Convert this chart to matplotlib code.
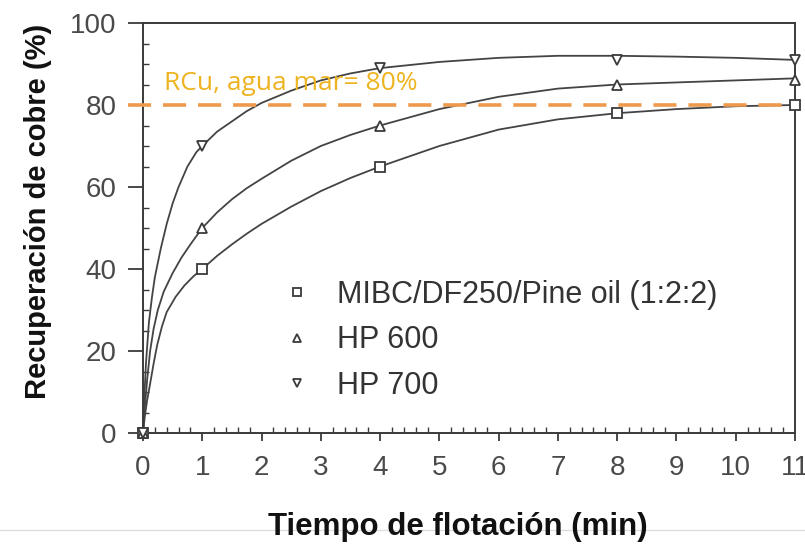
"""Recuperación de cobre vs tiempo de flotación para tres espumantes."""

import matplotlib
matplotlib.use("Agg")
import matplotlib.pyplot as plt
from matplotlib.lines import Line2D
from matplotlib.ticker import MultipleLocator

# Puntos experimentales (marcadores)
t_pts = [0, 1, 4, 8, 11]
mibc_pts = [0, 40, 65, 78, 80]
hp600_pts = [0, 50, 75, 85, 86]
hp700_pts = [0, 70, 89, 91, 91]

# Curvas de ajuste
t_mibc = [0, 0.03, 0.07, 0.12, 0.18, 0.24, 0.32, 0.4, 0.55, 0.7, 0.85, 1, 1.25,
          1.5, 1.75, 2, 2.5, 3, 3.5, 4, 5, 6, 7, 8, 9, 10, 11]
mibc_curve = [0, 4, 8, 12, 17, 21.5, 26, 29.5, 33.2, 36, 38.2, 40, 43.2,
              46, 48.6, 51, 55.2, 59, 62.2, 65, 70, 74, 76.5, 78, 79, 79.7, 80]

t_hp600 = [0, 0.03, 0.07, 0.12, 0.18, 0.25, 0.35, 0.5, 0.65, 0.8, 1, 1.25, 1.5,
           1.75, 2, 2.5, 3, 3.5, 4, 5, 6, 7, 8, 9, 10, 11]
hp600_curve = [0, 6, 13, 20, 25.5, 30, 34.5, 39, 42.8, 46, 50, 53.8, 57,
               59.7, 62, 66.4, 70, 72.7, 75, 79, 82, 84, 85, 85.5, 86, 86.5]

t_hp700 = [0, 0.02, 0.05, 0.1, 0.15, 0.2, 0.3, 0.4, 0.5, 0.6, 0.75, 0.9, 1, 1.25,
           1.5, 1.75, 2, 2.5, 3, 3.5, 4, 5, 6, 7, 8, 9, 10, 11]
hp700_curve = [0, 8, 17, 27, 33, 38, 45, 51, 56, 60, 65, 68.5, 70, 73.5,
               76, 78.5, 80.5, 83.5, 86, 87.7, 89, 90.5, 91.5, 92, 92, 91.8, 91.5, 91]

labels = ["MIBC/DF250/Pine oil (1:2:2)", "HP 600", "HP 700"]
markers = ["s", "^", "v"]
ref_value = 80

INK = "#3a3a3a"

fig = plt.figure(figsize=(8.05, 5.45), dpi=100)
ax = fig.add_axes([143 / 805, 1 - 433 / 545, 652 / 805, 410 / 545])

for tc, yc, tp, yp, m in [
    (t_mibc, mibc_curve, t_pts, mibc_pts, "s"),
    (t_hp600, hp600_curve, t_pts, hp600_pts, "^"),
    (t_hp700, hp700_curve, t_pts, hp700_pts, "v"),
]:
    ax.plot(tc, yc, color="#444444", lw=1.3, zorder=2, clip_on=False)
    ax.plot(tp, yp, ls="none", marker=m, ms=7, mfc="white", mec=INK, mew=1.3,
            zorder=4, clip_on=False)

ax.plot([-0.25, 11], [ref_value, ref_value], color="#EE9A4D", lw=2.6,
        dashes=(6.4, 3.3), zorder=3, clip_on=False)
ax.text(0.35, 82.3, "RCu, agua mar= 80%", color="#EEB320", fontsize=19,
        family=["Open Sans", "DejaVu Sans"], ha="left", va="bottom")

ax.set_xlim(0, 11)
ax.set_ylim(0, 100)
ax.set_xticks(range(0, 12))
ax.set_yticks(range(0, 101, 20))
ax.xaxis.set_minor_locator(MultipleLocator(0.2))
ax.yaxis.set_minor_locator(MultipleLocator(5))

for s in ax.spines.values():
    s.set_color(INK)
    s.set_linewidth(1.4)

ax.tick_params(axis="y", which="major", direction="out", length=11, width=1.3,
               color=INK, labelsize=20, labelcolor="#4a4a4a", pad=8)
ax.tick_params(axis="x", which="major", direction="out", length=6, width=1.3,
               color=INK, labelsize=20, labelcolor="#4a4a4a", pad=10)
ax.tick_params(which="minor", direction="in", length=4, width=1.0, color=INK)
for lab in ax.get_xticklabels() + ax.get_yticklabels():
    lab.set_family(["Liberation Sans", "DejaVu Sans"])

handles = [Line2D([0], [0], ls="none", marker=m, ms=6, mfc="white", mec=INK, mew=1.3)
           for m in markers]
leg = ax.legend(handles, labels, loc="upper left", bbox_to_anchor=(0.2127, 0.373),
                frameon=False, handlelength=1.0, handletextpad=0.8, borderpad=0,
                borderaxespad=0, labelspacing=0.5,
                prop={"family": ["Liberation Sans", "DejaVu Sans"], "size": 22})
for txt in leg.get_texts():
    txt.set_color("#333333")

fig.text(38 / 805, 1 - 211 / 545, "Recuperación de cobre (%)", rotation=90,
         ha="center", va="center", fontsize=21, fontweight="bold",
         family=["Liberation Sans", "DejaVu Sans"], color="#111111")
fig.text(458 / 805, 1 - 527 / 545, "Tiempo de flotación (min)", ha="center",
         va="center", fontsize=22.5, fontweight="bold",
         family=["Liberation Sans", "DejaVu Sans"],
         color="#111111", zorder=5)

fig.add_artist(Line2D([0, 1], [1 - 530 / 545, 1 - 530 / 545], color="#dddddd",
                      lw=1.0, zorder=0))

fig.savefig("out.png", dpi=100)
